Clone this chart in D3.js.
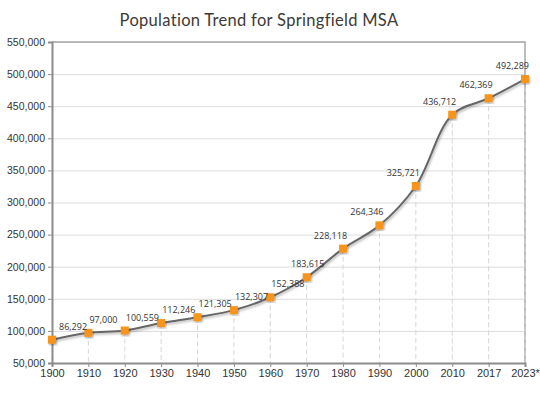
<!DOCTYPE html>
<html>
<head>
<meta charset="utf-8">
<script src="https://cdn.jsdelivr.net/npm/d3@7"></script>
<style>
	body { margin: 0; background: #fff; }
	svg { display: block; font-family: "Open Sans", sans-serif; }
	.grid line { stroke: #dcdcdc; stroke-width: 1; }
	.grid path { display: none; }
	.axis text { fill: #333; font-size: 10.5px; }
	.axis path, .axis line { stroke: #8c8c8c; }
</style>
</head>
<body>
<div id="chartContainer"></div>
<script>
//chart values
var years = ["1900", "1910", "1920", "1930", "1940", "1950", "1960", "1970", "1980", "1990", "2000", "2010", "2017", "2023*"];
var population = [86292, 97000, 100559, 112246, 121305, 132307, 152388, 183615, 228118, 264346, 325721, 436712, 462369, 492289];
var yTicks = [50000, 100000, 150000, 200000, 250000, 300000, 350000, 400000, 450000, 500000, 550000];
var title = "Population Trend for Springfield MSA";

var W = 540, H = 396;
var margin = {top: 42, right: 15, bottom: 33, left: 52};
var graph_w = W - margin.left - margin.right;
var graph_h = H - margin.top - margin.bottom;

var svg = d3.select("#chartContainer")
	.append("svg")
	.attr("width", W)
	.attr("height", H);

//soft shadow under the line and the markers
var defs = svg.append("defs");
var f = defs.append("filter").attr("id", "shadow")
	.attr("x", "-20%").attr("y", "-20%").attr("width", "140%").attr("height", "140%");
f.append("feDropShadow")
	.attr("dx", 1).attr("dy", 1.5).attr("stdDeviation", 1)
	.attr("flood-color", "#000").attr("flood-opacity", 0.3);

svg.append("text")
	.attr("x", 259)
	.attr("y", 26)
	.attr("text-anchor", "middle")
	.attr("fill", "#3d3a36")
	.style("font-family", "Lato, sans-serif")
	.style("font-size", "16.5px")
	.style("letter-spacing", "0.3px")
	.text(title);

var g = svg.append("g")
	.attr("transform", "translate(" + margin.left + "," + margin.top + ")");

var x = d3.scalePoint()
	.domain(years)
	.range([0, graph_w]);

var y = d3.scaleLinear()
	.domain([50000, 550000])
	.range([graph_h, 0]);

// horizontal gridlines
g.append("g")
	.attr("class", "grid")
	.call(d3.axisLeft(y)
		.tickValues(yTicks)
		.tickSize(-graph_w)
		.tickFormat("")
	);

// top and right frame
g.append("path")
	.attr("d", "M0,0H" + graph_w + "V" + graph_h)
	.attr("fill", "none")
	.attr("stroke", "#a6a6a6")
	.attr("stroke-width", 1.5);

// dashed drop lines from each point down to the x axis
g.append("g")
	.selectAll("line")
	.data(population)
	.join("line")
	.attr("x1", function(d, i) { return x(years[i]); })
	.attr("x2", function(d, i) { return x(years[i]); })
	.attr("y1", function(d) { return y(d); })
	.attr("y2", graph_h)
	.attr("stroke", "#d6d6d6")
	.attr("stroke-width", 1)
	.attr("stroke-dasharray", "5,3");

var yAxis = g.append("g")
	.attr("class", "y axis")
	.call(d3.axisLeft(y)
		.tickValues(yTicks)
		.tickSize(4)
		.tickPadding(3)
		.tickFormat(d3.format(","))
	);

var xAxis = g.append("g")
	.attr("class", "x axis")
	.attr("transform", "translate(0," + graph_h + ")")
	.call(d3.axisBottom(x)
		.tickSize(4)
		.tickPadding(2)
	);
xAxis.selectAll("text").style("font-size", "11px");

g.selectAll(".axis path").attr("stroke-width", 2).attr("stroke", "#8c8c8c");

var line = d3.line()
	.x(function(d, i) { return x(years[i]); })
	.y(function(d) { return y(d); })
	.curve(d3.curveCatmullRom.alpha(0.5));

g.append("path")
	.datum(population)
	.attr("fill", "none")
	.attr("stroke", "#666")
	.attr("stroke-width", 2)
	.attr("filter", "url(#shadow)")
	.attr("d", line);

var ms = 8;
g.append("g")
	.selectAll("rect")
	.data(population)
	.join("rect")
	.attr("x", function(d, i) { return x(years[i]) - ms / 2; })
	.attr("y", function(d) { return y(d) - ms / 2; })
	.attr("width", ms)
	.attr("height", ms)
	.attr("fill", "#f7941d")
	.attr("filter", "url(#shadow)");

//labels sit to the right of the point on the left half, to the left on the right half
var n = population.length;
g.append("g")
	.selectAll("text")
	.data(population)
	.join("text")
	.attr("x", function(d, i) {
		var t = i / (n - 1);
		if (i == 0) return x(years[i]) + 7;
		return x(years[i]) + (t < 0.5 ? 1 : t < 0.6 ? 1 : 4);
	})
	.attr("y", function(d) { return y(d) - 10; })
	.attr("text-anchor", function(d, i) {
		var t = i / (n - 1);
		return t < 0.5 ? "start" : t < 0.6 ? "middle" : "end";
	})
	.attr("fill", "#333")
	.style("font-size", "9px")
	.text(d3.format(","));
</script>
</body>
</html>
